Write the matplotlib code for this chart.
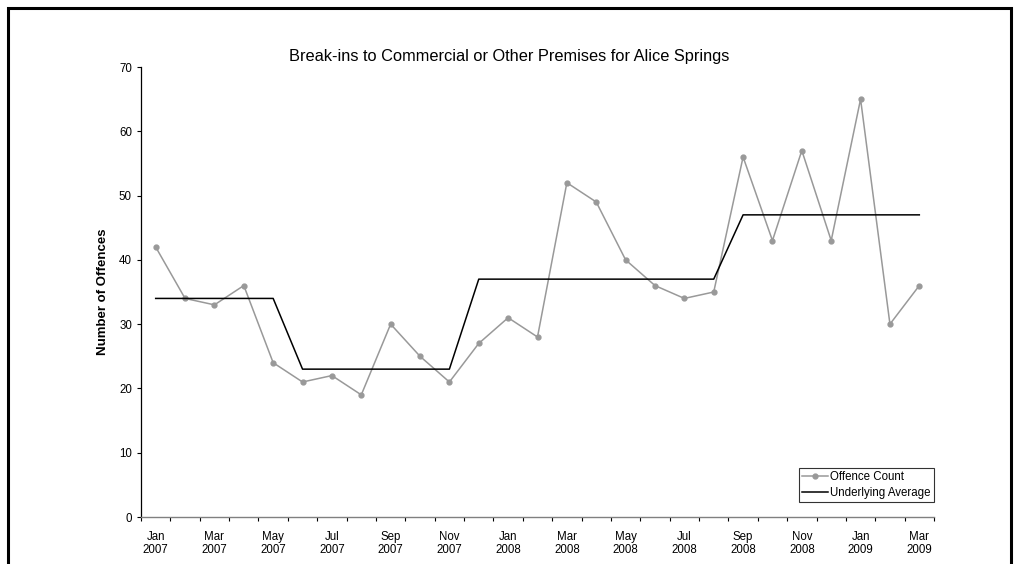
import matplotlib
matplotlib.use("Agg")
import matplotlib.pyplot as plt
import matplotlib.patches as mpatches
import numpy as np

plt.rcParams["font.family"] = ["Liberation Sans", "DejaVu Sans"]

# ── data ───────────────────────────────────────────────────────────────────────
MONTHS = ["Jan\n2007", "Feb\n2007", "Mar\n2007", "Apr\n2007", "May\n2007", "Jun\n2007",
          "Jul\n2007", "Aug\n2007", "Sep\n2007", "Oct\n2007", "Nov\n2007", "Dec\n2007",
          "Jan\n2008", "Feb\n2008", "Mar\n2008", "Apr\n2008", "May\n2008", "Jun\n2008",
          "Jul\n2008", "Aug\n2008", "Sep\n2008", "Oct\n2008", "Nov\n2008", "Dec\n2008",
          "Jan\n2009", "Feb\n2009", "Mar\n2009"]

OFFENCE_COUNT = [42, 34, 33, 36, 24, 21, 22, 19, 30, 25, 21, 27,
                 31, 28, 52, 49, 40, 36, 34, 35, 56, 43, 57, 43,
                 65, 30, 36]

UNDERLYING_AVG = [34, 34, 34, 34, 34, 23, 23, 23, 23, 23, 23, 37,
                  37, 37, 37, 37, 37, 37, 37, 37, 47, 47, 47, 47,
                  47, 47, 47]

# ── plot ───────────────────────────────────────────────────────────────────────
fig = plt.figure(figsize=(10.21, 5.64), dpi=100)
ax = fig.add_axes([141 / 1021, 1 - 517 / 564, (934 - 141) / 1021, (517 - 67) / 564])

x = np.arange(len(MONTHS))
ax.plot(x, OFFENCE_COUNT, color="#999999", linewidth=1.1, marker="o",
        markersize=3.5, label="Offence Count")
ax.plot(x, UNDERLYING_AVG, color="black", linewidth=1.1, label="Underlying Average")

ax.set_xlim(-0.5, len(MONTHS) - 0.5)
ax.set_ylim(0, 70)
ax.set_yticks(range(0, 71, 10))
ax.set_xticks(x[::2])
ax.set_xticklabels(MONTHS[::2], fontsize=8.3, linespacing=1.15)
ax.set_xticks(np.arange(-0.5, len(MONTHS), 1), minor=True)
ax.tick_params(axis="x", which="major", length=0, pad=10)
ax.tick_params(axis="x", which="minor", length=3, direction="out", width=0.8)
ax.tick_params(axis="y", labelsize=8.3, length=3, width=0.8)

for side in ["top", "right"]:
    ax.spines[side].set_visible(False)
ax.spines["left"].set_linewidth(0.9)
ax.spines["bottom"].set_color("#808080")
ax.spines["bottom"].set_linewidth(1.0)

ax.set_ylabel("Number of Offences", fontsize=9.5, fontweight="bold", labelpad=7.5)
fig.text(509 / 1021, 1 - 56 / 564, "Break-ins to Commercial or Other Premises for Alice Springs",
         ha="center", va="center", fontsize=11.8)

leg = ax.legend(loc="lower right", bbox_to_anchor=(1.0, 0.033), fontsize=8.3,
                frameon=True, fancybox=False, borderpad=0.3, handlelength=2.2,
                handletextpad=0.2, labelspacing=0.3, borderaxespad=0.0)
leg.get_frame().set_edgecolor("black")
leg.get_frame().set_linewidth(0.8)

# outer chart-area border
fig.patches.append(mpatches.Rectangle((8 / 1021, -0.1), (1011 - 8) / 1021, 1.1 - 8 / 564,
                                      transform=fig.transFigure, fill=False,
                                      edgecolor="black", linewidth=2.2))

fig.savefig("out.png", dpi=100)
